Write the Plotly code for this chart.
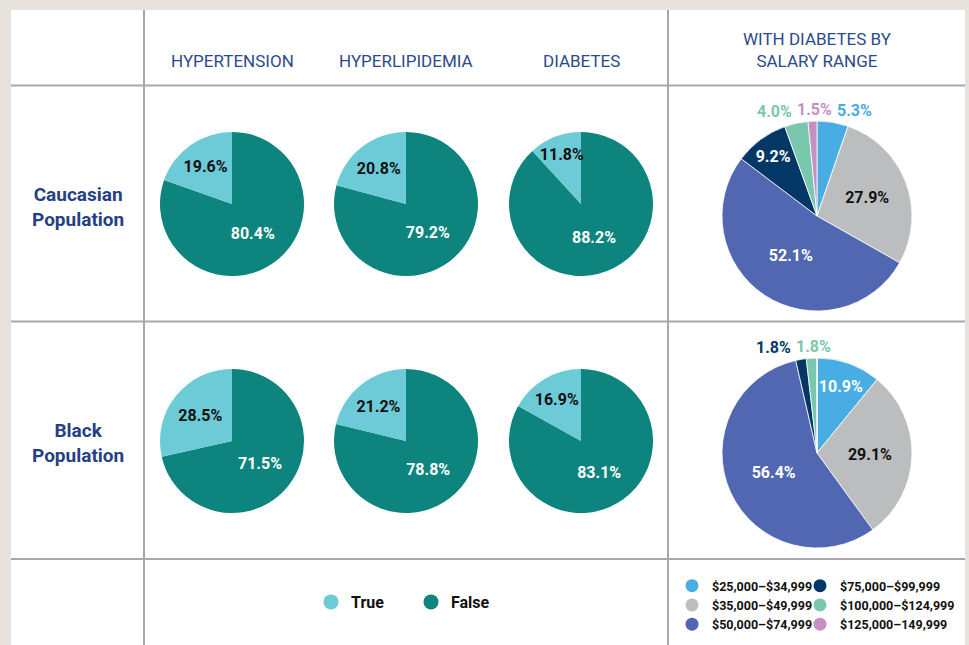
import math
import plotly.graph_objects as go

W, H = 969, 645

# ---------------- data ----------------
conditions = ["HYPERTENSION", "HYPERLIPIDEMIA", "DIABETES"]
populations = ["Caucasian<br>Population", "Black<br>Population"]
tf_labels = ["False", "True"]          # drawn clockwise from 12 o'clock
legend_tf = ["True", "False"]
caucasian_true = [19.6, 20.8, 11.8]
black_true = [28.5, 21.2, 16.9]
caucasian_false = [80.4, 79.2, 88.2]
black_false = [71.5, 78.8, 83.1]

salary_labels = ["$25,000\u2013$34,999", "$35,000\u2013$49,999", "$50,000\u2013$74,999",
                 "$75,000\u2013$99,999", "$100,000\u2013$124,999", "$125,000\u2013149,999"]
salary_caucasian = [5.3, 27.9, 52.1, 9.2, 4.0, 1.5]
salary_black = [10.9, 29.1, 56.4, 1.8, 1.8, 0.0]
salary_header = "WITH DIABETES BY<br>SALARY RANGE"

# ---------------- style ----------------
BEIGE = "#e7e3dc"
GRID = "#a7a8ab"
HEAD = "#2b4a8e"
ROWC = "#243f86"
TF_COLORS = {"True": "#6dcad7", "False": "#0d847d"}
TF_TEXT = {"True": "#111111", "False": "#ffffff"}
SAL_COLORS = ["#48ade2", "#bcbdbf", "#5167b1", "#033866", "#79c8ad", "#c690c3"]
FONT = "Roboto"
LBL_SIZE = 16


def px_x(v):
    return v / W


def px_y(v):
    return 1 - v / H


def dom(cx, cy, r):
    return dict(x=[px_x(cx - r), px_x(cx + r)], y=[px_y(cy + r), px_y(cy - r)])


col_cx = [232, 406, 581]
row_cy = [204, 441]
R_TF = 72
SAL_CX = 817
SAL_CY = [216, 453]
R_SAL = 95
INSIDE_MIN = 9  # slices smaller than this get their label outside

fig = go.Figure()

tf_data = [(caucasian_true, caucasian_false), (black_true, black_false)]
for ri, (tv, fv) in enumerate(tf_data):
    for ci in range(3):
        vals = [fv[ci], tv[ci]]
        fig.add_trace(go.Pie(
            labels=tf_labels, values=vals, sort=False, direction="clockwise",
            text=[f"{v:.1f}%" for v in vals], textinfo="text",
            textposition="inside", insidetextorientation="horizontal",
            textfont=dict(family=FONT, size=LBL_SIZE, color=[TF_TEXT[l] for l in tf_labels], weight=700),
            marker=dict(colors=[TF_COLORS[l] for l in tf_labels], line=dict(width=0)),
            domain=dom(col_cx[ci], row_cy[ri], R_TF), showlegend=False,
            hoverinfo="label+text",
        ))


def sal_textcolor(vals):
    return ["#111111" if i == 1 else "#ffffff" for i in range(len(vals))]


# width estimate of bold label text (em units)
CH_W = {".": 0.27, "%": 0.73}


def est_w(t, size):
    return sum(CH_W.get(ch, 0.562) for ch in t) * size


def outside_label_annotations(vals, cx, cy, r, gap=6):
    total = sum(vals)
    cum = 0.0
    items = []
    for i, v in enumerate(vals):
        if v <= 0:
            continue
        mid = (cum + v / 2) / total * 2 * math.pi
        cum += v
        if v >= INSIDE_MIN:
            continue
        ang = mid if mid <= math.pi else mid - 2 * math.pi
        s, c = math.sin(ang), math.cos(ang)
        px = cx + (r + 6) * s
        py = cy - (r + 6) * c
        t = f"{v:.1f}%"
        w = est_w(t, LBL_SIZE)
        if s > 0.1:
            left = px
        elif s < -0.1:
            left = px - w
        else:
            left = px - w / 2
        items.append(dict(i=i, ang=ang, left=left, w=w, py=py, c=c, t=t))
    items.sort(key=lambda d: d["ang"])
    if items:
        k = min(range(len(items)), key=lambda j: abs(items[j]["ang"]))
        for j in range(k - 1, -1, -1):
            lim = items[j + 1]["left"] - gap
            if items[j]["left"] + items[j]["w"] > lim:
                items[j]["left"] = lim - items[j]["w"]
        for j in range(k + 1, len(items)):
            lim = items[j - 1]["left"] + items[j - 1]["w"] + gap
            if items[j]["left"] < lim:
                items[j]["left"] = lim
    anns = []
    for d in items:
        anns.append(dict(
            text=d["t"], x=px_x(d["left"]), y=px_y(d["py"]), xref="paper", yref="paper",
            xanchor="left", yanchor="bottom" if d["c"] > 0 else "top", showarrow=False,
            yshift=-6 if d["c"] > 0 else 6,
            font=dict(family=FONT, size=LBL_SIZE, color=SAL_COLORS[d["i"]], weight=700),
        ))
    return anns


annotations = []
for ri, vals in enumerate([salary_caucasian, salary_black]):
    fig.add_trace(go.Pie(
        labels=salary_labels, values=vals, sort=False, direction="clockwise",
        text=[f"{v:.1f}%" for v in vals], textinfo="text",
        textposition=["inside" if v >= INSIDE_MIN else "none" for v in vals],
        insidetextorientation="horizontal",
        textfont=dict(family=FONT, size=LBL_SIZE, color=sal_textcolor(vals), weight=700),
        marker=dict(colors=SAL_COLORS, line=dict(width=0.8, color="white")),
        domain=dom(SAL_CX, SAL_CY[ri], R_SAL), showlegend=False,
        hoverinfo="label+text",
    ))
    annotations += outside_label_annotations(vals, SAL_CX, SAL_CY[ri], R_SAL)

# legend entries (markers only)
legend_map = []
for i, lab in enumerate(legend_tf):
    legend_map.append((lab, TF_COLORS[lab], 15, "legend" if i == 0 else "legend2"))
for i, lab in enumerate(salary_labels):
    legend_map.append((lab, SAL_COLORS[i], 13, "legend3" if i < 3 else "legend4"))
for lab, col, sz, lg in legend_map:
    fig.add_trace(go.Scatter(
        x=[None], y=[None], mode="markers", name=lab, legend=lg,
        marker=dict(color=col, size=sz, symbol="circle"), showlegend=True,
    ))

# ---------------- layout ----------------
shapes = [
    dict(type="rect", xref="paper", yref="paper", x0=px_x(11), x1=px_x(965),
         y0=px_y(645), y1=px_y(10), fillcolor="white", line=dict(width=0), layer="below"),
]
for xv in [144, 668]:
    shapes.append(dict(type="line", xref="paper", yref="paper", x0=px_x(xv), x1=px_x(xv),
                       y0=px_y(10), y1=px_y(645), line=dict(color=GRID, width=2)))
for yv in [85.5, 321.5, 559]:
    shapes.append(dict(type="line", xref="paper", yref="paper", x0=px_x(11), x1=px_x(965),
                       y0=px_y(yv), y1=px_y(yv), line=dict(color=GRID, width=2)))

for ci, name in enumerate(conditions):
    annotations.append(dict(text=name, x=px_x(col_cx[ci]), y=px_y(60.5), xref="paper", yref="paper",
                            showarrow=False, xanchor="center", yanchor="middle",
                            font=dict(family=FONT, size=17, color=HEAD, weight=400)))
annotations.append(dict(text=salary_header, x=px_x(817), y=px_y(50), xref="paper", yref="paper",
                        showarrow=False, xanchor="center", yanchor="middle",
                        font=dict(family=FONT, size=17, color=HEAD, weight=400)))
for ri, name in enumerate(populations):
    annotations.append(dict(text=name, x=px_x(78), y=px_y([207, 443][ri]), xref="paper", yref="paper",
                            showarrow=False, xanchor="center", yanchor="middle",
                            font=dict(family=FONT, size=19, color=ROWC, weight=700)))

leg_common = dict(bgcolor="rgba(0,0,0,0)", borderwidth=0, xanchor="left", yanchor="middle",
                  itemsizing="trace", orientation="v")
tf_font = dict(family=FONT, size=16, color="#111111", weight=700)
sal_font = dict(family=FONT, size=12.5, color="#111111", weight=700)

fig.update_layout(
    width=W, height=H, autosize=False,
    margin=dict(l=0, r=0, t=0, b=0),
    paper_bgcolor=BEIGE, plot_bgcolor="rgba(0,0,0,0)",
    xaxis=dict(visible=False, domain=[0, 0.001]),
    yaxis=dict(visible=False, domain=[0, 0.001]),
    shapes=shapes, annotations=annotations,
    uniformtext=dict(minsize=LBL_SIZE, mode="show"),
    legend=dict(x=px_x(331 - 20), y=px_y(602), font=tf_font, **leg_common),
    legend2=dict(x=px_x(431 - 20), y=px_y(602), font=tf_font, **leg_common),
    legend3=dict(x=px_x(692 - 20), y=px_y(605), font=sal_font, **leg_common),
    legend4=dict(x=px_x(820 - 20), y=px_y(605), font=sal_font, **leg_common),
    hovermode=False,
)

fig.write_html("out.html", config={"displayModeBar": False},
               post_script="document.body.style.margin='0px';")
